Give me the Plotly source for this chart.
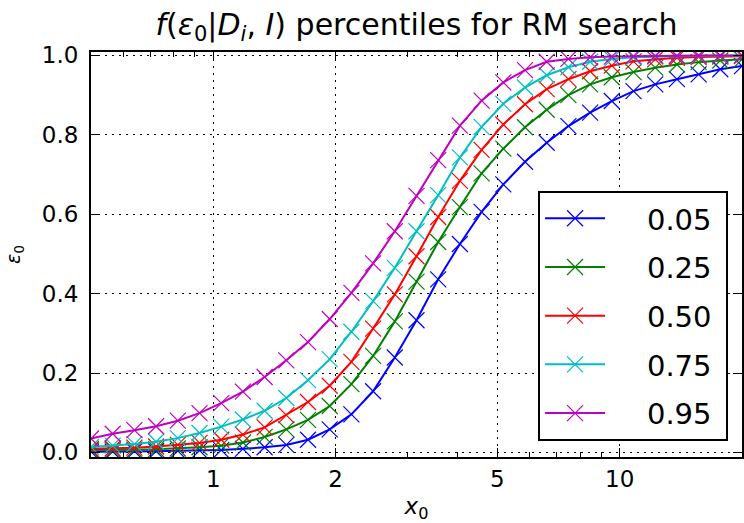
import plotly.graph_objects as go

# x grid (31 log-spaced points from 0.5 to 20)
x0 = [0.5, 0.5654, 0.6394, 0.7231, 0.8177, 0.9247, 1.0457, 1.1826, 1.3373, 1.5123,
      1.7100, 1.9338, 2.1868, 2.4730, 2.7966, 3.1623, 3.5761, 4.0440, 4.5732, 5.1716,
      5.8480, 6.6133, 7.4786, 8.4572, 9.5638, 10.815, 12.231, 13.831, 15.641, 17.687, 20.0]

p05 = [0.002, 0.002, 0.003, 0.003, 0.004, 0.005, 0.006, 0.009, 0.013, 0.019,
       0.032, 0.058, 0.096, 0.154, 0.239, 0.333, 0.436, 0.525, 0.606, 0.675,
       0.732, 0.780, 0.822, 0.856, 0.885, 0.910, 0.927, 0.940, 0.952, 0.965, 0.973]
p25 = [0.006, 0.006, 0.007, 0.008, 0.010, 0.013, 0.017, 0.025, 0.039, 0.058,
       0.082, 0.117, 0.172, 0.243, 0.330, 0.430, 0.530, 0.618, 0.703, 0.765,
       0.819, 0.863, 0.900, 0.927, 0.945, 0.958, 0.969, 0.977, 0.983, 0.987, 0.990]
p50 = [0.009, 0.010, 0.012, 0.015, 0.019, 0.024, 0.032, 0.045, 0.063, 0.094,
       0.127, 0.168, 0.228, 0.312, 0.398, 0.494, 0.593, 0.684, 0.762, 0.826,
       0.877, 0.915, 0.940, 0.960, 0.974, 0.985, 0.990, 0.994, 0.996, 0.997, 0.998]
p75 = [0.014, 0.017, 0.021, 0.027, 0.036, 0.049, 0.065, 0.083, 0.105, 0.137,
       0.182, 0.235, 0.304, 0.381, 0.465, 0.557, 0.648, 0.743, 0.820, 0.878,
       0.919, 0.950, 0.970, 0.984, 0.991, 0.995, 0.997, 0.998, 0.999, 0.999, 1.0]
p95 = [0.035, 0.047, 0.056, 0.066, 0.080, 0.099, 0.124, 0.153, 0.190, 0.232,
       0.278, 0.336, 0.402, 0.476, 0.557, 0.646, 0.736, 0.823, 0.886, 0.932,
       0.963, 0.984, 0.991, 0.995, 0.997, 0.998, 0.999, 0.999, 1.0, 1.0, 1.0]

labels = ["0.05", "0.25", "0.50", "0.75", "0.95"]
series = [p05, p25, p50, p75, p95]
colors = ["#0000ff", "#008000", "#ff0000", "#00bfbf", "#bf00bf"]

xticks = [1, 2, 5, 10]
xminor = [0.5, 0.6, 0.7, 0.8, 0.9, 3, 4, 6, 7, 8, 9, 20]
yticks = [0.0, 0.2, 0.4, 0.6, 0.8, 1.0]

FONT = "DejaVu Sans, Liberation Sans, Arial, sans-serif"
NB = "\u00a0"

fig = go.Figure()
for lab, ys, col in zip(labels, series, colors):
    fig.add_trace(go.Scatter(
        x=x0, y=ys, mode="lines+markers", name=NB * 4 + lab + NB,
        legendgroup=lab,
        line=dict(color=col, width=2),
        marker=dict(symbol="x-thin", size=16, color=col,
                    line=dict(color=col, width=1.2)),
    ))

fig.update_layout(
    width=744, height=523,
    margin=dict(l=91, r=0, t=52, b=66),
    paper_bgcolor="white", plot_bgcolor="white",
    font=dict(family=FONT, color="black"),
    title=dict(
        text="<i>f</i>(<i>ε</i><sub>0</sub>|<i>D<sub>i</sub></i>, <i>I</i>) percentiles for RM search",
        x=0.5, xanchor="center", xref="paper",
        y=1 - 24 / 523, yanchor="middle", yref="container",
        font=dict(size=30, family=FONT),
    ),
    legend=dict(
        x=0.9786, xanchor="right", y=0.657, yanchor="top",
        bgcolor="white", bordercolor="black", borderwidth=2,
        font=dict(size=29, family=FONT),
        itemwidth=60, tracegroupgap=8,
    ),
    showlegend=True,
)

fig.update_xaxes(
    type="log", range=[-0.30103, 1.30103],
    tickvals=xticks, ticktext=[str(v) for v in xticks],
    ticks="inside", ticklen=9, tickwidth=1, tickcolor="black",
    showline=True, linewidth=2, linecolor="black", mirror="ticks",
    showgrid=True, gridcolor="black", gridwidth=1, griddash="2px,5px",
    zeroline=False,
    tickfont=dict(size=23, family=FONT),
    minor=dict(tickvals=xminor, ticks="inside", ticklen=5, tickcolor="black",
               showgrid=False),
    title=dict(text="<i>x</i><sub>0</sub>", font=dict(size=23, family=FONT), standoff=10),
)
fig.update_yaxes(
    range=[-0.0115, 1.0085],
    tickvals=yticks, ticktext=[f"{v:.1f}" for v in yticks],
    ticks="inside", ticklen=9, tickwidth=1, tickcolor="black",
    showline=True, linewidth=2, linecolor="black", mirror="ticks",
    showgrid=True, gridcolor="black", gridwidth=1, griddash="2px,5px",
    zeroline=False,
    tickfont=dict(size=23, family=FONT),
    ticklabelstandoff=6,
    title=dict(text="<i>ε</i><sub>0</sub>", font=dict(size=19, family=FONT), standoff=16),
)

fig.write_html("out.html")
